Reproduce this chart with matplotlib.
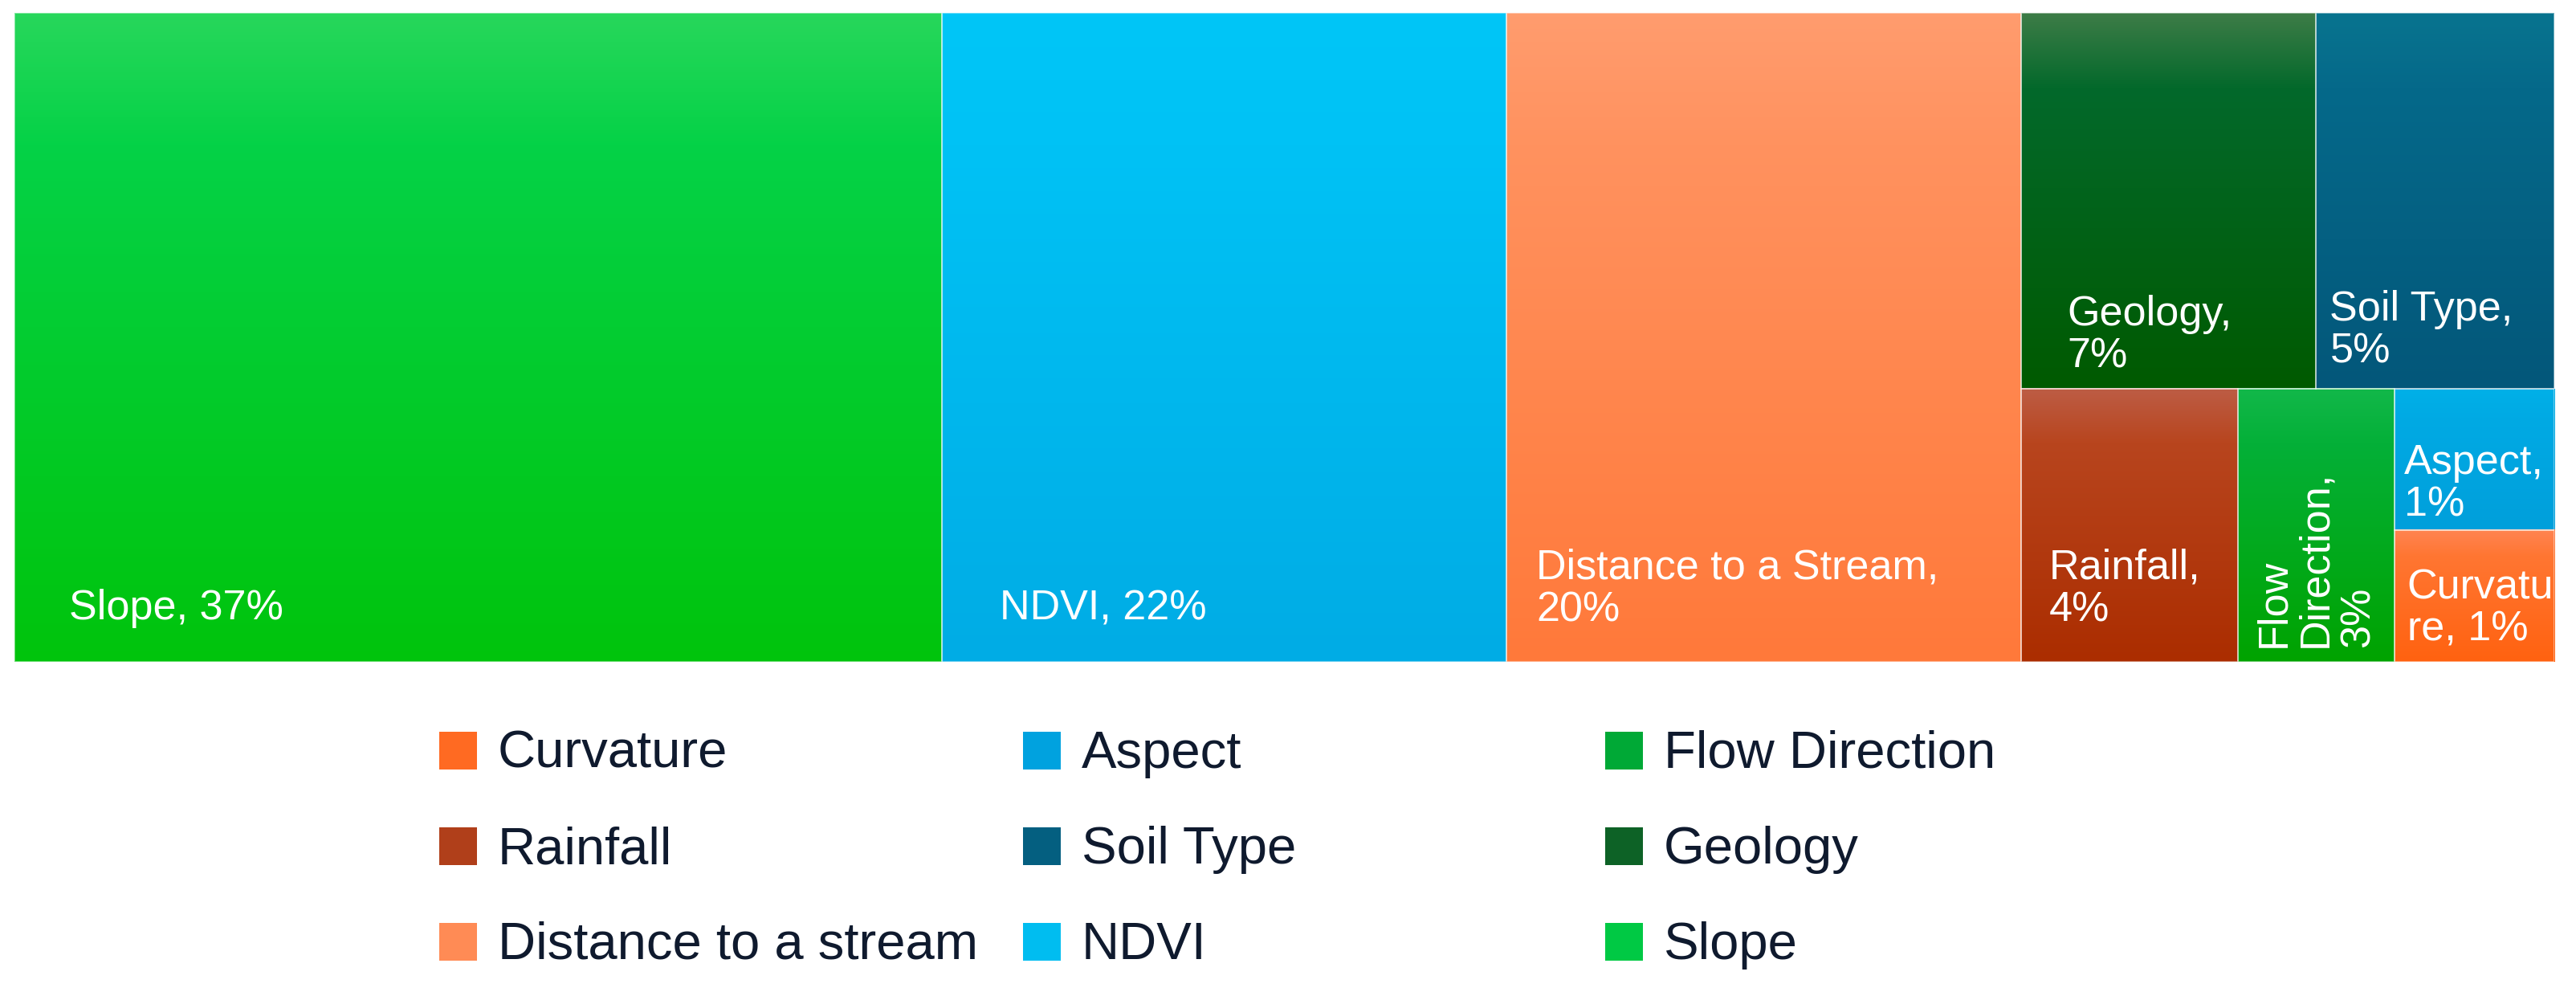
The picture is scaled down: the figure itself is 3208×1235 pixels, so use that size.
import numpy as np
import matplotlib
matplotlib.use("Agg")
import matplotlib.pyplot as plt
from matplotlib.colors import LinearSegmentedColormap
from matplotlib.patches import Rectangle

# ---------------- data ----------------
factors = ["Slope", "NDVI", "Distance to a Stream", "Geology", "Soil Type",
           "Rainfall", "Flow Direction", "Aspect", "Curvature"]
shares = [36.52, 22.22, 20.28, 6.72, 5.43, 3.59, 2.59, 1.37, 1.28]
# how the tile label is wrapped inside each tile
tile_text = ["Slope", "NDVI", "Distance to a Stream", "Geology", "Soil Type",
             "Rainfall", "Flow\nDirection", "Aspect", "Curvatu\nre"]
tile_sep = [" ", " ", "\n", "\n", "\n", "\n", "\n", "\n", " "]

legend_names = ["Curvature", "Aspect", "Flow Direction",
                "Rainfall", "Soil Type", "Geology",
                "Distance to a stream", "NDVI", "Slope"]

# ---------------- styles ----------------
tile_grad = [
    ("#27d75b", "#05d247", "#00c40c"),   # Slope
    ("#00c6f7", "#00c2f5", "#00ace5"),   # NDVI
    ("#ff9c6e", "#ff925f", "#ff793a"),   # Distance
    ("#3d7c47", "#03692b", "#005a00"),   # Geology
    ("#08748f", "#05698a", "#03577a"),   # Soil
    ("#bd5d45", "#b8451e", "#ab2d00"),   # Rainfall
    ("#12b84a", "#04b038", "#00a300"),   # Flow
    ("#00b0e8", "#00aae4", "#009fdb"),   # Aspect
    ("#ff8452", "#ff7632", "#ff6210"),   # Curvature
]
legend_colors = ["#ff6a22", "#00a2df", "#00a936",
                 "#b03f1a", "#045f80", "#0d6226",
                 "#ff8b55", "#00bdf0", "#00c944"]

# label offsets (px): from tile left, and from tile bottom to baseline
label_dx = [68, 72, 37, 57, 17, 34, 97, 12, 16]
label_dy = [53, 53, 51, 26, 32, 51, 18, 17, 26]
label_rot = [0, 0, 0, 0, 0, 0, 90, 0, 0]

FW, FH = 3208, 1235
L, T, W, H = 18, 16, 3163, 808

fig = plt.figure(figsize=(FW / 100, FH / 100), dpi=100)
fig.patch.set_facecolor("white")
ax = fig.add_axes([L / FW, 1 - (T + H) / FH, W / FW, H / FH])
ax.set_axis_off()


def squarify(values, x, y, w, h):
    rects = []
    vals = list(values)

    def worst(row, short):
        s = sum(row)
        return max(max(short * short * r / (s * s), s * s / (short * short * r)) for r in row)

    while vals:
        short = min(w, h)
        row = [vals[0]]
        i = 1
        while i < len(vals) and worst(row + [vals[i]], short) <= worst(row, short):
            row.append(vals[i])
            i += 1
        s = sum(row)
        if w >= h:
            cw = s / h
            yy = y
            for r in row:
                rh = r / cw
                rects.append((x, yy, cw, rh))
                yy += rh
            x += cw
            w -= cw
        else:
            rh = s / w
            xx = x
            for r in row:
                rw = r / rh
                rects.append((xx, y, rw, rh))
                xx += rw
            y += rh
            h -= rh
        vals = vals[i:]
    return rects


total = sum(shares)
areas = [v / total * W * H for v in shares]
rects = squarify(areas, 0, 0, W, H)

grad = np.linspace(0, 1, 256).reshape(-1, 1)
font = "Liberation Sans"

for i, (x, y, w, h) in enumerate(rects):
    top, mid, bot = tile_grad[i]
    cmap = LinearSegmentedColormap.from_list(f"g{i}", [(0, top), (0.2, mid), (1, bot)])
    ax.imshow(grad, extent=(x, x + w, y + h, y), origin="upper", cmap=cmap,
              aspect="auto", interpolation="bilinear", zorder=1)
    ax.add_patch(Rectangle((x, y), w, h, facecolor="none",
                           edgecolor=(1, 1, 1, 0.45), lw=1.4, zorder=2))
    pct = f"{round(shares[i]):d}%"
    label = f"{tile_text[i]},{tile_sep[i]}{pct}"
    if label_rot[i] == 90:
        ax.text(x + label_dx[i], y + h - label_dy[i], label, rotation=90,
                ha="center", va="bottom", color="white", fontsize=37.5,
                family=font, linespacing=1.1, multialignment="left", zorder=3)
    else:
        ax.text(x + label_dx[i], y + h - label_dy[i], label,
                ha="left", va="baseline", color="white", fontsize=37.5,
                family=font, linespacing=1.1, zorder=3)

ax.set_xlim(0, W)
ax.set_ylim(H, 0)

# ---------------- legend ----------------
col_x = [547, 1274, 1999]
row_y = [934, 1053, 1172]
msize = 47
for k, name in enumerate(legend_names):
    r, c = divmod(k, 3)
    mx, my = col_x[c], row_y[r]
    fig.add_artist(Rectangle((mx / FW, 1 - (my + msize / 2) / FH), msize / FW, msize / FH,
                             transform=fig.transFigure, facecolor=legend_colors[k],
                             edgecolor="none"))
    fig.text((mx + 73) / FW, 1 - (my + 22) / FH, name, ha="left", va="baseline",
             fontsize=47, family=font, color="#0f1a2e")

fig.savefig("out.png", dpi=100, facecolor="white")
